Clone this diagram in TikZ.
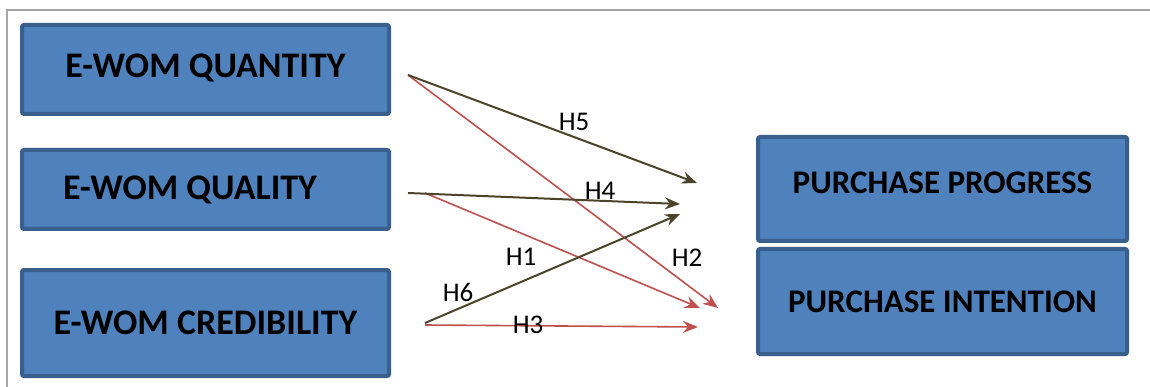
\documentclass[tikz,border=0pt]{standalone}
\usepackage{fontspec}
\setmainfont{Carlito}
\usetikzlibrary{positioning, arrows.meta}
\definecolor{boxblue}{HTML}{4F81BD}
\definecolor{boxedge}{HTML}{3A5F8C}
\definecolor{darkarrow}{HTML}{4A452A}
\definecolor{redarrow}{HTML}{C0504D}
\definecolor{framegray}{HTML}{A6A6A6}

\begin{document}
\begin{tikzpicture}[
        x=1pt, y=-1pt,
        >={Stealth[length=15pt, width=12pt]},
        box/.style={
            draw=boxedge,
            fill=boxblue,
            line width=4pt,
            rounded corners=2pt,
            font=\fontsize{36}{42}\selectfont\bfseries,
            minimum width=367pt,
            inner sep=0pt
        },
        outcome/.style={
            box,
            font=\fontsize{33}{40}\selectfont\bfseries,
            minimum width=369pt
        },
        hyp/.style={
            font=\fontsize{27}{32}\selectfont,
            inner sep=0pt
        },
        dark/.style={->, line width=2pt, draw=darkarrow, color=darkarrow},
        red/.style={->, line width=1.6pt, draw=redarrow, color=redarrow}
    ]
    \useasboundingbox (0,0) rectangle (1150,387);
    \draw[framegray, line width=2pt] (7,387) -- (7,10) -- (1150,10);

    \node[box, minimum height=89pt] (quantity) at (205.5,69.5) {\raisebox{8pt}{E-WOM QUANTITY}};
    \node[box, minimum height=79pt] (quality) at (205.5,189.5) {E-WOM QUALITY\hspace*{31pt}};
    \node[box, minimum height=106pt] (credibility) at (205.5,323) {E-WOM CREDIBILITY};

    \node[outcome, minimum height=104pt] (progress) at (942.5,189) {\raisebox{12pt}{PURCHASE PROGRESS}};
    \node[outcome, minimum height=105pt] (intention) at (942.5,301.5) {PURCHASE INTENTION};

    % arrow ends
    \coordinate (qnt-out) at ([xshift=17pt, yshift=-5.5pt]quantity.east);
    \coordinate (qlt-out) at ([xshift=17pt, yshift=-3.5pt]quality.east);
    \coordinate (qlt-out2) at ([xshift=34pt, yshift=-3.5pt]quality.east);
    \coordinate (crd-out) at ([xshift=34pt]credibility.east);
    \coordinate (prg-in1) at (697,183);
    \coordinate (prg-in2) at (680,204);
    \coordinate (prg-in3) at (680,214);
    \coordinate (int-in1) at (718,308);
    \coordinate (int-in2) at (700,308);
    \coordinate (int-in3) at (698,327);

    \draw[red] (qnt-out) -- (int-in1);
    \draw[red] (qlt-out2) -- (int-in2);
    \draw[red] ([yshift=-2pt]crd-out) -- (int-in3);
    \draw[dark] (qnt-out) -- (prg-in1);
    \draw[dark] (qlt-out) -- (prg-in2);
    \draw[dark] (crd-out) -- (prg-in3);

    \node[hyp] (h5) at (574,122) {H5};
    \node[hyp] (h4) at (600,191) {H4};
    \node[hyp] (h1) at (521,257) {H1};
    \node[hyp] (h2) at (687,258) {H2};
    \node[hyp] (h6) at (458,292) {H6};
    \node[hyp] (h3) at (528,325) {H3};
\end{tikzpicture}
\end{document}
